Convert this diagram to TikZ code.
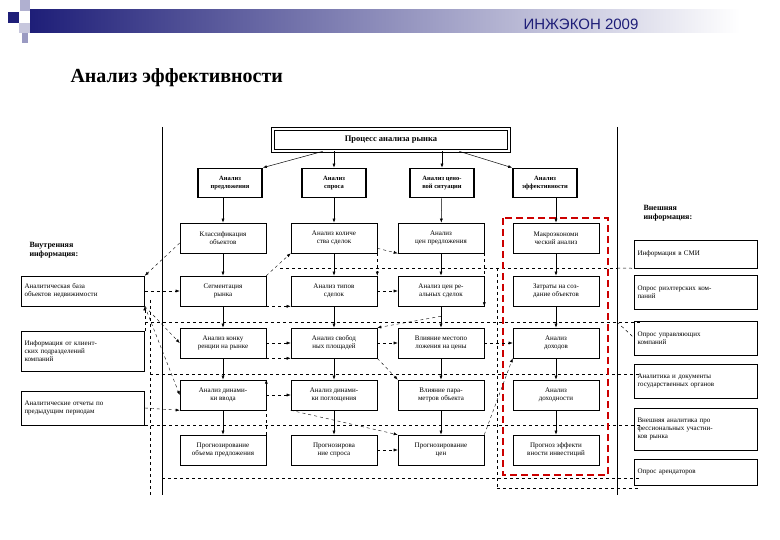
\documentclass[tikz,border=0pt]{standalone}
\usepackage{fontspec}
\setmainfont{Liberation Serif}
\newfontfamily\hdr{Liberation Sans}
\usetikzlibrary{arrows.meta}
\definecolor{navy}{RGB}{30,30,120}
\begin{document}
\begin{tikzpicture}[x=1pt,y=-1pt,
  bx/.style={draw,line width=0.6pt,minimum width=86pt,minimum height=30pt,inner sep=1pt,align=center,font=\fontsize{7}{8}\selectfont},
  lone/.style={draw,line width=1.6pt,minimum width=64pt,minimum height=29pt,inner sep=1pt,align=center,font=\bfseries\fontsize{6.5}{7.5}\selectfont},
  side/.style={draw,line width=0.6pt,minimum width=123pt,inner sep=2pt,align=left,text width=117pt,font=\fontsize{7}{8}\selectfont},
  ar/.style={-{Latex[length=4pt,width=3pt]},line width=0.5pt},
  da/.style={-{Latex[length=4pt,width=3pt]},dashed,line width=0.4pt},
  dl/.style={dashed,line width=0.5pt}]
\useasboundingbox (0,0) rectangle (780,540);
% header
\shade[left color=navy,right color=white] (30,10) rectangle (740,33);
\fill[navy] (8,12) rectangle (19,23);
\fill[navy!35] (20,0) rectangle (30,11);
\fill[navy!25] (19,23) rectangle (30,33);
\fill[navy!45] (22,33) rectangle (28,43);
\node[anchor=west,font=\hdr\fontsize{15}{15}\selectfont,text=navy] (brand) at (520,24) {ИНЖЭКОН 2009};
\node[anchor=west,font=\bfseries\fontsize{20}{20}\selectfont] (title) at (67,78) {Анализ эффективности};
% frame lines
\draw[line width=0.8pt] (162,127) -- (162,495);
\draw[line width=0.8pt] (617,127) -- (617,495);
% dashed horizontals
\draw[dl] (280,268) -- (617,268);
\draw[dl] (145,322) -- (640,322);
\draw[dl] (150,374) -- (640,374);
\draw[dl] (145,425) -- (640,425);
\draw[dl] (162,478) -- (640,478);
\draw[dl] (497,488) -- (640,488);
\draw[dl] (497,268) -- (497,488);
\draw[dl] (150,300) -- (150,495);
% red
\draw[red!80!black,dashed,dash pattern=on 7pt off 4pt,line width=1.4pt] (503,218) rectangle (608,475);
% top
\node[draw,double,double distance=1.5pt,line width=0.8pt,minimum width=236pt,minimum height=22pt,font=\bfseries\fontsize{8.5}{9}\selectfont] (top) at (391,140) {Процесс анализа рынка};
\node[lone] (l1) at (230,183) {Анализ\\предложения};
\node[lone] (l2) at (334,183) {Анализ\\спроса};
\node[lone] (l3) at (442,183) {Анализ цено-\\вой ситуации};
\node[lone] (l4) at (545,183) {Анализ\\эффективности};
\draw[ar] (top.south west) ++(50,0) -- (l1.north east);
\draw[ar] (top.south -| l2) -- (l2);
\draw[ar] (top.south -| l3) -- (l3);
\draw[ar] (top.south east) ++(-50,0) -- (l4.north west);
% columns
\node[bx] (a1) at (223,238) {Классификация\\объектов};
\node[bx] (a2) at (223,291) {Сегментация\\рынка};
\node[bx] (a3) at (223,343) {Анализ конку\\ренции на рынке};
\node[bx] (a4) at (223,395) {Анализ динами-\\ки ввода};
\node[bx] (a5) at (223,450) {Прогнозирование\\объема предложения};
\node[bx] (b1) at (334,238) {Анализ количе\\ства сделок};
\node[bx] (b2) at (334,291) {Анализ типов\\сделок};
\node[bx] (b3) at (334,343) {Анализ свобод\\ных площадей};
\node[bx] (b4) at (334,395) {Анализ динами-\\ки поглощения};
\node[bx] (b5) at (334,450) {Прогнозирова\\ние спроса};
\node[bx] (c1) at (441,238) {Анализ\\цен предложения};
\node[bx] (c2) at (441,291) {Анализ цен ре-\\альных сделок};
\node[bx] (c3) at (441,343) {Влияние местопо\\ложения на цены};
\node[bx] (c4) at (441,395) {Влияние пара-\\метров объекта};
\node[bx] (c5) at (441,450) {Прогнозирование\\цен};
\node[bx] (d1) at (556,238) {Макроэкономи\\ческий анализ};
\node[bx] (d2) at (556,291) {Затраты на соз-\\дание объектов};
\node[bx] (d3) at (556,343) {Анализ\\доходов};
\node[bx] (d4) at (556,395) {Анализ\\доходности};
\node[bx] (d5) at (556,450) {Прогноз эффекти\\вности инвестиций};
\draw[ar] (a1.north |- l1.south) -- (a1); \draw[ar] (l2) -- (b1); \draw[ar] (l3) -- (c1); \draw[ar] (d1.north |- l4.south) -- (d1);
\foreach \p in {a,b,c,d}{
  \draw[ar] (\p1) -- (\p2); \draw[ar] (\p2) -- (\p3); \draw[ar] (\p3) -- (\p4); \draw[ar] (\p4) -- (\p5);}
% dashed cross links
\draw[da] (b2) -- (c2);
\draw[da] (a3) -- (b3);
\draw[da] (b3) -- (c3);
\draw[da] (c3) -- (d3);
\draw[da] (a4) -- (b4);
\draw[da] (b5) -- (c5);
\draw[da] (a2.north east) -- (b1.south west);
\draw[da] (a2.south east) -- (b2.south west);
\draw[da] (b1.south east) -- (b2.north east);
\draw[da] (b1.south east) ++(0,-5) -- (c1.south west);
\draw[da] (c1.south east) -- (c2.south east);
\draw[da] (c2.south) ++(0,10) -- (b3.north east);
\draw[da] (b3.south east) -- (c4.north west);
\draw[da] (a5.north east) -- (a4.north east);
\draw[da] (b4.south west) -- (c5.north west);
\draw[da] (c5.north east) -- (d3.south west);
\draw[da] (a3.south east) -- (b3.south west);
% left info
\node[anchor=west,align=left,font=\bfseries\fontsize{8}{9}\selectfont] (inl) at (26,250) {Внутренняя\\информация:};
\node[side,minimum height=30pt] (e1) at (83,291) {Аналитическая база\\объектов недвижимости};
\node[side,minimum height=40pt] (e2) at (83,351) {Информация от клиент-\\ских подразделений\\компаний};
\node[side,minimum height=34pt] (e3) at (83,408) {Аналитические отчеты по\\предыдущим периодам};
\draw[da] (a1.west) ++(0,5) -- (e1.north east);
\draw[da] (e1.east) -- (a2.west);
\draw[da] (e1.south east) -- (a3.west);
\draw[da] (e1.south east) -- (a4.west);
\draw[da] (e2.north east) -- (e1.south east);
\draw[da] (e3.east) -- (a4.south west);
% right info
\node[anchor=west,align=left,font=\bfseries\fontsize{8}{9}\selectfont] (inr) at (640,213) {Внешняя\\информация:};
\node[side,minimum height=28pt] (f1) at (696,254) {Информация в СМИ};
\node[side,minimum height=34pt] (f2) at (696,292) {Опрос риэлтерских ком-\\паний};
\node[side,minimum height=34pt] (f3) at (696,338) {Опрос управляющих\\компаний};
\node[side,minimum height=34pt] (f4) at (696,381) {Аналитика и документы\\государственных органов};
\node[side,minimum height=42pt] (f5) at (696,429) {Внешняя аналитика про\\фессиональных участни-\\ков рынка};
\node[side,minimum height=26pt] (f6) at (696,472) {Опрос арендаторов};
\draw[dl] (617,268) -- (f1.south west);
\draw[dl] (617,322) -- (f3.west);
\end{tikzpicture}
\end{document}
